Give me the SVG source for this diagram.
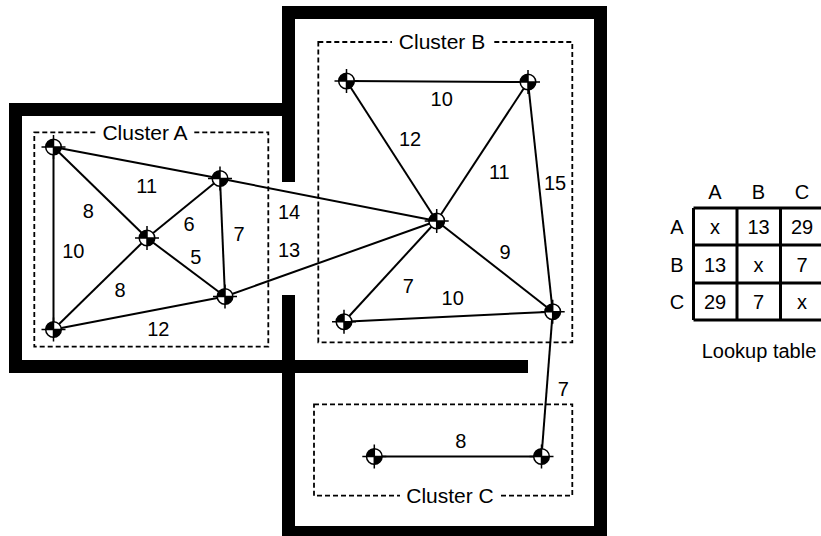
<svg xmlns="http://www.w3.org/2000/svg" xmlns:xlink="http://www.w3.org/1999/xlink" width="821" height="536" viewBox="0 0 821 536">
<style>
text{font-family:"Liberation Sans",Arial,Helvetica,sans-serif;font-size:20px;fill:#000;text-anchor:middle}
.clabel{font-size:21px}
.wall{fill:#000}
.cluster{fill:none;stroke:#000;stroke-width:1.8;stroke-dasharray:5 3}
.edge{stroke:#000;stroke-width:2;fill:none}
.grid{stroke:#000;stroke-width:3;fill:none}
.gap{fill:#fff}
</style>
<defs>
<g id="node-sym">
<circle r="7.8" fill="#fff" stroke="#000" stroke-width="1.5"/>
<path d="M0,0 L-7.8,0 A7.8,7.8 0 0 1 0,-7.8 Z" fill="#000"/>
<path d="M0,0 L7.8,0 A7.8,7.8 0 0 1 0,7.8 Z" fill="#000"/>
<path d="M-12,0 H12 M0,-12 V12" stroke="#000" stroke-width="1.5"/>
</g>
</defs>
<rect width="821" height="536" fill="#fff"/>
<g id="walls">
<rect class="wall" x="9" y="103" width="286" height="13"/>
<rect class="wall" x="9" y="103" width="13" height="270"/>
<rect class="wall" x="9" y="360" width="519" height="13"/>
<rect class="wall" x="282" y="6" width="13" height="176"/>
<rect class="wall" x="282" y="295" width="13" height="241"/>
<rect class="wall" x="282" y="6" width="325" height="13"/>
<rect class="wall" x="594" y="6" width="13" height="530"/>
<rect class="wall" x="282" y="526" width="325" height="10"/>
</g>
<g id="cluster-a">
<rect class="cluster" x="34.3" y="132.3" width="234" height="214.4"/>
<rect class="gap" x="97" y="124" width="97" height="17"/>
<text class="clabel" x="145" y="139.5">Cluster A</text>
</g>
<g id="cluster-b">
<rect class="cluster" x="318.3" y="42" width="254" height="300.3"/>
<rect class="gap" x="392" y="34" width="101" height="17"/>
<text class="clabel" x="442" y="48.5">Cluster B</text>
</g>
<g id="cluster-c">
<rect class="cluster" x="314" y="404.3" width="258.3" height="91.4"/>
<rect class="gap" x="400" y="488" width="101" height="17"/>
<text class="clabel" x="450" y="503">Cluster C</text>
</g>
<g id="connectors">
<line class="edge" x1="53.5" y1="147" x2="53.5" y2="329.5"/>
<line class="edge" x1="53.5" y1="147" x2="147" y2="238"/>
<line class="edge" x1="53.5" y1="147" x2="220" y2="178.5"/>
<line class="edge" x1="220" y1="178.5" x2="147" y2="238"/>
<line class="edge" x1="220" y1="178.5" x2="225" y2="296.5"/>
<line class="edge" x1="147" y1="238" x2="225" y2="296.5"/>
<line class="edge" x1="147" y1="238" x2="53.5" y2="329.5"/>
<line class="edge" x1="53.5" y1="329.5" x2="225" y2="296.5"/>
<line class="edge" x1="220" y1="178.5" x2="436.7" y2="221"/>
<line class="edge" x1="225" y1="296.5" x2="436.7" y2="221"/>
<line class="edge" x1="346.5" y1="81" x2="528" y2="82"/>
<line class="edge" x1="346.5" y1="81" x2="436.7" y2="221"/>
<line class="edge" x1="528" y1="82" x2="436.7" y2="221"/>
<line class="edge" x1="528" y1="82" x2="552.7" y2="311.7"/>
<line class="edge" x1="436.7" y1="221" x2="552.7" y2="311.7"/>
<line class="edge" x1="436.7" y1="221" x2="344" y2="321.7"/>
<line class="edge" x1="344" y1="321.7" x2="552.7" y2="311.7"/>
<line class="edge" x1="552.7" y1="311.7" x2="541.5" y2="456.5"/>
<line class="edge" x1="374.3" y1="456.5" x2="541.5" y2="456.5"/>
</g>
<g id="edge-labels">
<text x="146.7" y="193">11</text>
<text x="88.3" y="218">8</text>
<text x="73.3" y="258">10</text>
<text x="189" y="231">6</text>
<text x="239" y="241">7</text>
<text x="195.7" y="264">5</text>
<text x="120" y="297">8</text>
<text x="158.3" y="336">12</text>
<text x="289" y="219">14</text>
<text x="289" y="257">13</text>
<text x="441.7" y="106">10</text>
<text x="410" y="146">12</text>
<text x="499.3" y="179">11</text>
<text x="555" y="190">15</text>
<text x="505" y="259">9</text>
<text x="408.3" y="293">7</text>
<text x="452.7" y="305">10</text>
<text x="460.7" y="448">8</text>
<text x="563.3" y="396">7</text>
</g>
<g id="node-a1" transform="translate(53.5,147)"><use href="#node-sym" xlink:href="#node-sym"/></g>
<g id="node-a2" transform="translate(220,178.5)"><use href="#node-sym" xlink:href="#node-sym"/></g>
<g id="node-a3" transform="translate(147,238)"><use href="#node-sym" xlink:href="#node-sym"/></g>
<g id="node-a4" transform="translate(225,296.5)"><use href="#node-sym" xlink:href="#node-sym"/></g>
<g id="node-a5" transform="translate(53.5,329.5)"><use href="#node-sym" xlink:href="#node-sym"/></g>
<g id="node-b1" transform="translate(346.5,81)"><use href="#node-sym" xlink:href="#node-sym"/></g>
<g id="node-b2" transform="translate(528,82)"><use href="#node-sym" xlink:href="#node-sym"/></g>
<g id="node-b3" transform="translate(436.7,221)"><use href="#node-sym" xlink:href="#node-sym"/></g>
<g id="node-b4" transform="translate(344,321.7)"><use href="#node-sym" xlink:href="#node-sym"/></g>
<g id="node-b5" transform="translate(552.7,311.7)"><use href="#node-sym" xlink:href="#node-sym"/></g>
<g id="node-c1" transform="translate(374.3,456.5)"><use href="#node-sym" xlink:href="#node-sym"/></g>
<g id="node-c2" transform="translate(541.5,456.5)"><use href="#node-sym" xlink:href="#node-sym"/></g>
<g id="lookup-table">
<path class="grid" d="M693.5,208 H826 M693.5,245 H826 M693.5,283 H826 M693.5,320 H826 M693.5,208 V320 M737,208 V320 M780.5,208 V320 M824,208 V320"/>
<text x="715" y="199">A</text>
<text x="758.5" y="199">B</text>
<text x="802" y="199">C</text>
<text x="677" y="234">A</text>
<text x="677" y="271.5">B</text>
<text x="677" y="309">C</text>
<text x="715" y="234">x</text>
<text x="758.5" y="234">13</text>
<text x="802" y="234">29</text>
<text x="715" y="271.5">13</text>
<text x="758.5" y="271.5">x</text>
<text x="802" y="271.5">7</text>
<text x="715" y="309">29</text>
<text x="758.5" y="309">7</text>
<text x="802" y="309">x</text>
<text x="759" y="358">Lookup table</text>
</g>
</svg>
